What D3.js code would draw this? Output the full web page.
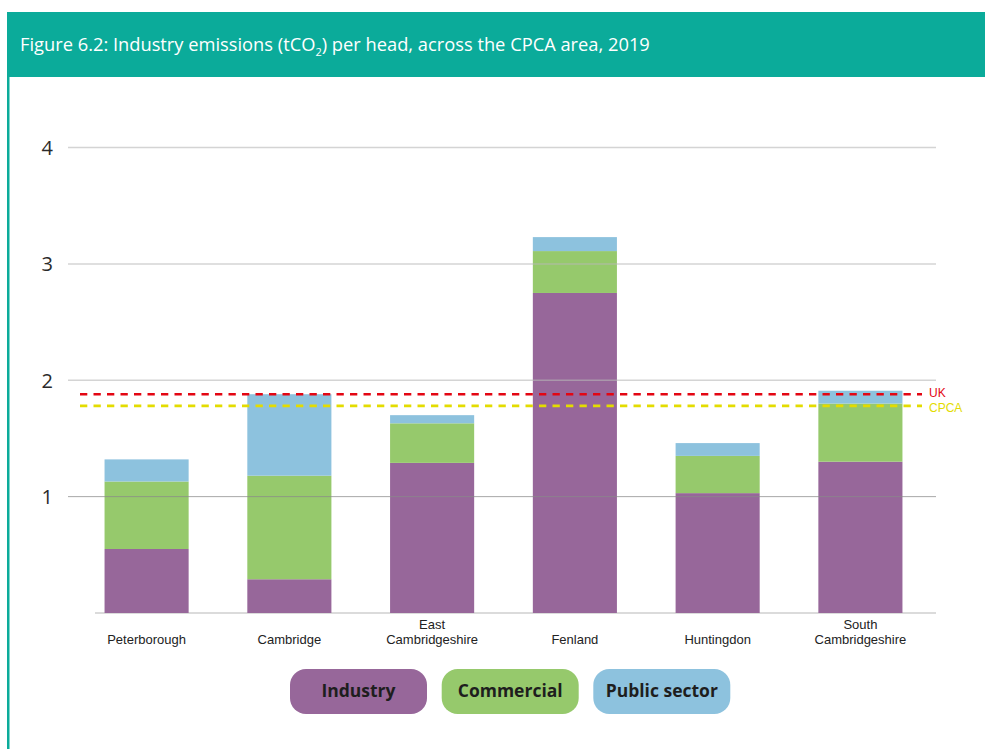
<!DOCTYPE html>
<html><head><meta charset="utf-8">
<script src="https://cdn.jsdelivr.net/npm/d3@7"></script>
<style>body{margin:0;background:#fff;} svg{display:block;}</style>
</head><body>
<svg id="chart" width="985" height="749"></svg>
<script>
const categories = [["Peterborough"],["Cambridge"],["East","Cambridgeshire"],["Fenland"],["Huntingdon"],["South","Cambridgeshire"]];
const industry   = [0.55, 0.29, 1.29, 2.75, 1.03, 1.30];
const commercial = [0.58, 0.89, 0.34, 0.36, 0.32, 0.50];
const publicSector = [0.19, 0.70, 0.07, 0.12, 0.11, 0.11];
const seriesNames = ["Industry","Commercial","Public sector"];
const seriesColors = ["#97679a","#96c96c","#8dc2de"];
const yTicks = [1,2,3,4];
const refLines = [{name:"UK", value:1.88, color:"#e30613"},{name:"CPCA", value:1.78, color:"#e3dc00"}];

const svg = d3.select("#chart");
const teal = "#0bab9a";

// frame
svg.append("rect").attr("x",7).attr("y",12).attr("width",978).attr("height",65).attr("fill",teal);
svg.append("rect").attr("x",7).attr("y",77).attr("width",2.5).attr("height",672).attr("fill",teal);
const title = svg.append("text").attr("x",20).attr("y",51).attr("fill","#fff")
  .attr("font-family","'Open Sans',sans-serif").attr("font-size",18.3);
title.append("tspan").text("Figure 6.2: Industry emissions (tCO");
title.append("tspan").attr("font-size",11).attr("dy",5).text("2");
title.append("tspan").attr("dy",-5).text(") per head, across the CPCA area, 2019");

const keys = ["industry","commercial","public"];
const rows = categories.map((c,i)=>({cat:c.join(" "), lines:c, industry:industry[i], commercial:commercial[i], public:publicSector[i]}));
const stack = d3.stack().keys(keys)(rows);

const x = d3.scaleBand().domain(rows.map(d=>d.cat)).range([76,931]).paddingInner(0.411).paddingOuter(0.2);
const y = d3.scaleLinear().domain([0,4]).range([613,147.5]);

// baseline
svg.append("line").attr("x1",95).attr("x2",936).attr("y1",y(0)).attr("y2",y(0)).attr("stroke","#cfcfcf").attr("stroke-width",1.5);

// bars
const colorScale = d3.scaleOrdinal().domain(keys).range(seriesColors);
svg.append("g").selectAll("g").data(stack).join("g").attr("fill",d=>colorScale(d.key))
  .selectAll("rect").data(d=>d).join("rect")
  .attr("x",d=>x(d.data.cat)).attr("width",x.bandwidth())
  .attr("y",d=>y(d[1])).attr("height",d=>y(d[0])-y(d[1]));

// gridlines (drawn over bars, translucent)
svg.append("g").selectAll("line").data(yTicks).join("line")
  .attr("x1",68).attr("x2",936).attr("y1",d=>y(d)).attr("y2",d=>y(d))
  .attr("stroke",d=>d===1?"#8a8a8a":"#b8b8b8").attr("stroke-opacity",d=>d===1?0.75:0.6)
  .attr("stroke-width",d=>d===1?1:1.5);

// y axis labels
const yAxis = d3.axisLeft(y).tickValues(yTicks).tickSize(0).tickPadding(0).tickFormat(d3.format("d"));
const ya = svg.append("g").attr("transform","translate(53,0)").call(yAxis);
ya.select(".domain").remove();
ya.selectAll("text").attr("font-family","'Open Sans',sans-serif").attr("font-size",20).attr("fill","#2a2a2a").attr("dy","0.35em");

// reference lines
refLines.forEach((r,i)=>{
  svg.append("line").attr("x1",80).attr("x2",922).attr("y1",y(r.value)).attr("y2",y(r.value))
    .attr("stroke",r.color).attr("stroke-width",2.6).attr("stroke-dasharray","7.3,6.2");
  svg.append("text").attr("x",929).attr("y",y(r.value)+(i===0?3:6.5)).attr("fill",r.color)
    .attr("font-family","'Liberation Sans',Arial,sans-serif").attr("font-size",12).text(r.name);
});

// category labels
const xl = svg.append("g");
rows.forEach(d=>{
  const cx = x(d.cat)+x.bandwidth()/2;
  const ys = d.lines.length===1 ? [644] : [629,644];
  d.lines.forEach((ln,j)=>{
    xl.append("text").attr("text-anchor","middle").attr("fill","#222")
      .attr("font-family","'Liberation Sans',Arial,sans-serif").attr("font-size",13)
      .attr("x",cx).attr("y",ys[j]).text(ln);
  });
});

// legend pills
const legendX = [290,441.7,593.3];
const lg = svg.append("g");
seriesNames.forEach((n,i)=>{
  lg.append("rect").attr("x",legendX[i]).attr("y",669).attr("width",137).attr("height",45).attr("rx",16).attr("ry",16).attr("fill",seriesColors[i]);
  lg.append("text").attr("x",legendX[i]+68.5).attr("y",697).attr("text-anchor","middle")
    .attr("font-family","'Open Sans',sans-serif").attr("font-weight","bold").attr("font-size",17.5).attr("fill","#1e1e1e").text(n);
});
</script>
</body></html>
